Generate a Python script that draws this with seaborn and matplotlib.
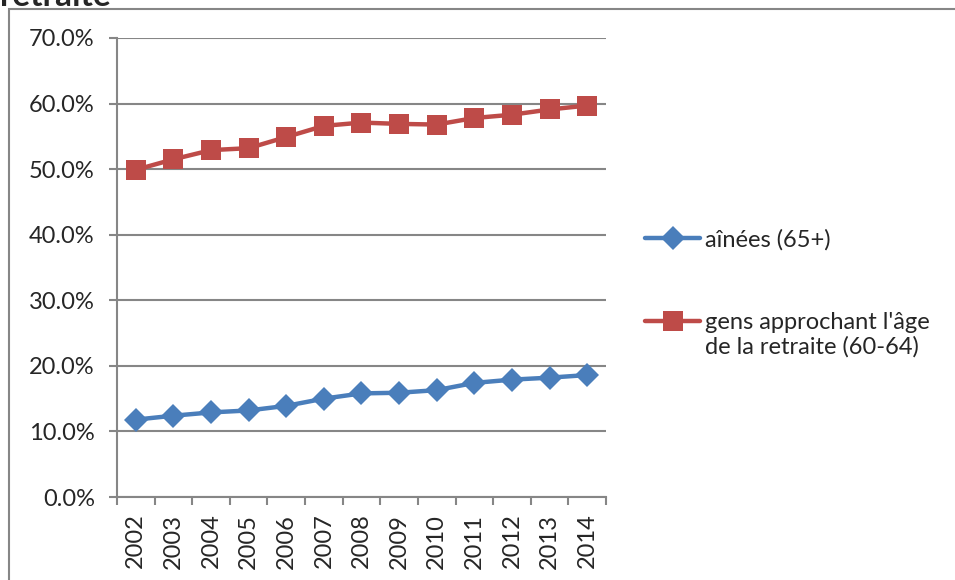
import pandas as pd
import matplotlib.pyplot as plt
import seaborn as sns
from matplotlib.patches import Rectangle
from matplotlib.ticker import PercentFormatter

# Data
years = [2002, 2003, 2004, 2005, 2006, 2007, 2008, 2009, 2010, 2011, 2012, 2013, 2014]
ainees = [0.118, 0.124, 0.129, 0.132, 0.139, 0.150, 0.158, 0.159, 0.163, 0.174, 0.179, 0.182, 0.186]
approchant = [0.499, 0.515, 0.529, 0.532, 0.549, 0.566, 0.571, 0.569, 0.568, 0.578, 0.583, 0.591, 0.597]
label_ainees = "aînées (65+)"
label_approchant = "gens approchant l'âge"
label_approchant_2 = "de la retraite (60-64)"
title = "retraite"

BLUE = "#4A7EBB"
RED = "#BE4B48"
GRID = "#868686"
FS = 17

sns.set_style("white")
plt.rcParams['font.family'] = ['Lato', 'DejaVu Sans']

df = pd.DataFrame({"year": years, "ainees": ainees, "approchant": approchant})

fig = plt.figure(figsize=(9.55, 5.8), dpi=100)
ax = fig.add_axes([117 / 955, 1 - 497 / 580, (606 - 117) / 955, (497 - 38) / 580])

sns.lineplot(data=df, x="year", y="ainees", ax=ax, color=BLUE, linewidth=3.2,
             marker="D", markersize=12, markeredgewidth=0, label=label_ainees)
sns.lineplot(data=df, x="year", y="approchant", ax=ax, color=RED, linewidth=3.2,
             marker="s", markersize=14, markeredgewidth=0, label=label_approchant)

ax.set_xlim(years[0] - 0.5, years[-1] + 0.5)
ax.set_ylim(0, 0.7)
ax.set_yticks([i / 10 for i in range(8)])
ax.yaxis.set_major_formatter(PercentFormatter(1.0, decimals=1))
ax.set_xticks(years)
ax.set_xticklabels([str(y) for y in years], rotation=90)
ax.set_xticks([y - 0.5 for y in years] + [years[-1] + 0.5], minor=True)
ax.set_xlabel("")
ax.set_ylabel("")

ax.grid(axis="y", color=GRID, linewidth=1.5)
ax.set_axisbelow(True)
for side in ["top", "right"]:
    ax.spines[side].set_visible(False)
for side in ["left", "bottom"]:
    ax.spines[side].set_color(GRID)
    ax.spines[side].set_linewidth(1.5)

ax.tick_params(axis="y", which="major", length=6, width=1.5, color=GRID, pad=10,
               labelsize=FS, left=True)
ax.tick_params(axis="x", which="major", length=0, pad=12, labelsize=FS)
ax.tick_params(axis="x", which="minor", length=6, width=1.5, color=GRID, bottom=True)

leg = ax.legend(loc="upper left", bbox_to_anchor=(645 / 955, 1 - 229 / 580),
                bbox_transform=fig.transFigure, frameon=False, fontsize=FS,
                handlelength=2.35, handletextpad=0.2, labelspacing=2.6,
                borderpad=0, borderaxespad=0)
# second line of the red label, placed right under the first one
ax.annotate(label_approchant_2, xy=(0, 0), xycoords=leg.get_texts()[1],
            xytext=(0, -2), textcoords="offset points", va="top", ha="left",
            fontsize=FS, annotation_clip=False, zorder=10)

# outer chart border (right and bottom edges fall outside the image)
fig.add_artist(Rectangle((9 / 955, -0.1), 1.2, 1.1 - 9 / 580, transform=fig.transFigure,
                         fill=False, edgecolor=GRID, linewidth=1.5))
fig.text(0.0, 1 - 6 / 580, title, fontsize=24, fontweight="bold", va="baseline", ha="left")

fig.savefig("out.png", dpi=100)
